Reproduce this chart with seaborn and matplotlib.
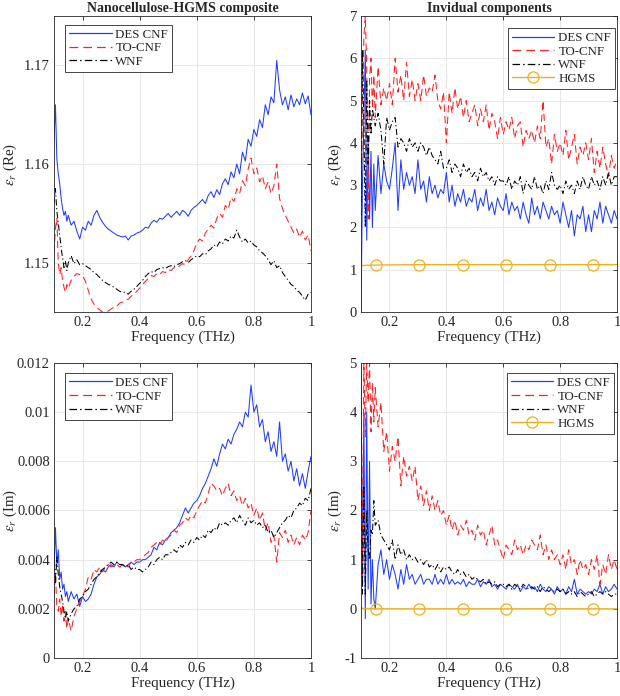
import numpy as np
import matplotlib
matplotlib.use("Agg")
import matplotlib.pyplot as plt
from matplotlib.lines import Line2D
import seaborn as sns

# Frequency grid (THz): finer at the start where the traces are spiky
FREQ = [0.100, 0.105, 0.110, 0.115, 0.120, 0.125, 0.130, 0.135, 0.140, 0.145, 0.150,
        0.16, 0.17, 0.18, 0.19,
        0.20, 0.21, 0.22, 0.23, 0.24, 0.25, 0.26, 0.27, 0.28, 0.29,
        0.30, 0.31, 0.32, 0.33, 0.34, 0.35, 0.36, 0.37, 0.38, 0.39,
        0.40, 0.41, 0.42, 0.43, 0.44, 0.45, 0.46, 0.47, 0.48, 0.49,
        0.50, 0.51, 0.52, 0.53, 0.54, 0.55, 0.56, 0.57, 0.58, 0.59,
        0.60, 0.61, 0.62, 0.63, 0.64, 0.65, 0.66, 0.67, 0.68, 0.69,
        0.70, 0.71, 0.72, 0.73, 0.74, 0.75, 0.76, 0.77, 0.78, 0.79,
        0.80, 0.81, 0.82, 0.83, 0.84, 0.85, 0.86, 0.87, 0.88, 0.89,
        0.90, 0.91, 0.92, 0.93, 0.94, 0.95, 0.96, 0.97, 0.98, 0.99,
        1.00]

# Composite, real part
RE_COMP_DES = [1.1625, 1.1660, 1.1605, 1.1590, 1.1580, 1.1565, 1.1555, 1.1548, 1.1552, 1.1542, 1.1548,
               1.1538, 1.1542, 1.1532, 1.1524,
               1.1536, 1.1533, 1.1542, 1.1538, 1.1548, 1.1553, 1.1546, 1.1541, 1.1537, 1.1534,
               1.1532, 1.1530, 1.1528, 1.1527, 1.1526, 1.1527, 1.1523, 1.1527, 1.1528, 1.1530,
               1.1531, 1.1533, 1.1536, 1.1535, 1.1540, 1.1543, 1.1541, 1.1545, 1.1544, 1.1547,
               1.1550, 1.1546, 1.1549, 1.1552, 1.1548, 1.1553, 1.1551, 1.1547, 1.1553, 1.1556,
               1.1558, 1.1561, 1.1564, 1.1560, 1.1568, 1.1572, 1.1566, 1.1574, 1.1569, 1.1580,
               1.1585, 1.1579, 1.1592, 1.1586, 1.1600, 1.1590, 1.1612, 1.1603, 1.1625, 1.1618,
               1.1635, 1.1628, 1.1645, 1.1637, 1.1660, 1.1650, 1.1668, 1.1662, 1.1705, 1.1675,
               1.1660, 1.1668, 1.1655, 1.1670, 1.1658, 1.1666, 1.1660, 1.1672, 1.1661, 1.1669,
               1.1650]
RE_COMP_TO = [1.1510, 1.1535, 1.1545, 1.1500, 1.1488, 1.1495, 1.1482, 1.1475, 1.1470, 1.1478, 1.1474,
              1.1482, 1.1486, 1.1489, 1.1488,
              1.1487, 1.1481, 1.1472, 1.1463, 1.1458, 1.1455, 1.1452, 1.1450, 1.1450, 1.1451,
              1.1453, 1.1455, 1.1456, 1.1459, 1.1460, 1.1462, 1.1463, 1.1466, 1.1468, 1.1471,
              1.1474, 1.1478, 1.1481, 1.1484, 1.1487, 1.1486, 1.1489, 1.1488, 1.1491, 1.1490,
              1.1493, 1.1492, 1.1495, 1.1494, 1.1497, 1.1499, 1.1498, 1.1503, 1.1507, 1.1512,
              1.1520, 1.1524, 1.1522, 1.1530, 1.1534, 1.1538, 1.1535, 1.1545, 1.1550, 1.1546,
              1.1558, 1.1554, 1.1566, 1.1562, 1.1575, 1.1570, 1.1583, 1.1578, 1.1595, 1.1606,
              1.1590, 1.1596, 1.1582, 1.1588, 1.1575, 1.1582, 1.1570, 1.1578, 1.1600, 1.1565,
              1.1555, 1.1548, 1.1542, 1.1536, 1.1530, 1.1534, 1.1526, 1.1532, 1.1523, 1.1528,
              1.1512]
RE_COMP_WNF = [1.1560, 1.1575, 1.1552, 1.1540, 1.1528, 1.1515, 1.1505, 1.1495, 1.1502, 1.1492, 1.1500,
               1.1507, 1.1499, 1.1503, 1.1498,
               1.1499, 1.1497, 1.1495, 1.1493, 1.1490, 1.1488, 1.1485, 1.1482, 1.1480, 1.1478,
               1.1477, 1.1475, 1.1473, 1.1471, 1.1470, 1.1470, 1.1468, 1.1471, 1.1473, 1.1476,
               1.1479, 1.1482, 1.1486, 1.1489, 1.1491, 1.1490, 1.1493, 1.1494, 1.1495, 1.1494,
               1.1496, 1.1497, 1.1496, 1.1498, 1.1499, 1.1501, 1.1502, 1.1500, 1.1503, 1.1505,
               1.1507, 1.1506, 1.1509, 1.1508, 1.1512, 1.1514, 1.1518, 1.1516, 1.1521, 1.1519,
               1.1524, 1.1522, 1.1527, 1.1525, 1.1533, 1.1526, 1.1521, 1.1524, 1.1520, 1.1522,
               1.1518, 1.1516, 1.1512, 1.1510, 1.1507, 1.1503, 1.1498, 1.1502, 1.1495, 1.1497,
               1.1490, 1.1486, 1.1482, 1.1478, 1.1476, 1.1472, 1.1470, 1.1466, 1.1462, 1.1468,
               1.1470]

# Individual components, real part
RE_IND_DES = [0.0, 3.0, 4.5, 6.2, 1.7, 4.0, 2.2, 3.8, 2.0, 3.5, 2.4,
              3.7, 2.8, 3.5, 3.1,
              2.9, 3.4, 4.0, 2.4, 3.6, 2.9, 3.3, 3.0, 3.2, 2.8,
              3.6, 2.9, 3.1, 2.6, 3.2, 2.8, 3.0, 2.7, 2.9, 2.8,
              3.3, 2.6, 3.0, 2.5, 2.8, 2.6, 2.9, 2.5, 2.7, 2.6,
              2.9, 2.4, 2.7, 2.5, 2.9, 2.4, 2.6, 2.3, 2.7, 2.5,
              2.4, 2.8, 2.3, 2.6, 2.4, 2.5, 2.2, 2.6, 2.3, 2.1,
              2.7, 2.3, 2.5, 2.2, 2.6, 2.4, 2.2, 2.5, 2.3, 2.4,
              2.1, 2.6, 2.3, 2.0, 2.4, 1.8, 2.3, 2.2, 2.5, 1.9,
              2.3, 1.9, 2.4, 2.2, 2.6, 2.1, 2.5, 2.3, 2.1, 2.4,
              2.2]
RE_IND_TO = [2.5, 5.0, 6.5, 7.0, 5.8, 2.2, 5.5, 6.0, 4.8, 5.6, 4.6,
             5.8, 4.9, 5.3, 5.0,
             5.4, 4.9, 6.0, 5.2, 5.6, 5.0, 5.9, 5.1, 5.5, 5.0,
             5.4, 5.0, 5.6, 5.1, 5.3, 5.2, 5.6, 5.0, 4.8, 5.2,
             4.0, 5.2, 4.7, 5.3, 4.8, 5.1, 4.6, 5.0, 4.5, 4.7,
             4.9, 4.4, 4.8, 4.5, 4.9, 4.3, 4.7, 4.5, 4.1, 4.6,
             4.2, 4.5, 4.3, 4.6, 4.1, 4.4, 4.5, 3.9, 4.3, 4.1,
             4.3, 4.0, 4.4, 4.1, 5.0, 3.9, 4.1, 3.5, 4.2, 3.8,
             4.0, 3.7, 4.3, 3.6, 3.9, 4.2, 3.5, 3.9, 3.7, 4.0,
             3.6, 4.1, 3.3, 3.8, 3.4, 3.9, 3.5, 3.2, 3.7, 3.4,
             3.6]
RE_IND_WNF = [2.0, 6.2, 4.5, 2.0, 5.5, 3.5, 5.0, 4.2, 4.8, 4.6, 4.4,
              4.7, 4.3, 3.5, 4.6,
              4.3, 4.5, 4.6, 3.9, 4.1, 4.0, 3.8, 4.1, 3.9, 4.0,
              3.8, 4.0, 3.9, 3.7, 3.9, 3.7, 3.6, 3.5, 3.8, 3.4,
              3.4, 3.6, 3.3, 3.5, 3.4, 3.2, 3.5, 3.3, 3.4, 3.2,
              3.3, 3.1, 3.4, 3.2, 3.3, 3.1, 3.2, 3.0, 3.2, 3.1,
              3.1, 3.0, 3.2, 2.9, 3.1, 3.0, 3.2, 2.8, 3.1, 3.0,
              2.9, 3.2, 2.9, 3.0, 2.8, 3.1, 2.9, 3.3, 3.0, 2.9,
              3.0, 2.8, 3.1, 2.9, 3.0, 2.8, 3.1, 2.9, 3.2, 3.0,
              2.9, 3.2, 3.0, 3.1, 2.9, 3.2, 3.0, 3.3, 3.0, 3.2,
              3.2]

# HGMS is nearly flat: a few samples, markers on the interior ones
HGMS_FREQ = [0.100, 0.103, 0.153, 0.305, 0.458, 0.611, 0.764, 0.917, 1.000]
HGMS_RE = [1.00, 1.10, 1.11, 1.12, 1.12, 1.12, 1.12, 1.12, 1.12]
HGMS_IM = [0.05, 0.01, 0.00, 0.00, 0.00, 0.00, 0.00, 0.00, 0.00]
HGMS_MARKS = [2, 3, 4, 5, 6, 7]

# Composite, imaginary part
IM_COMP_DES = [0.0035, 0.0053, 0.0038, 0.0044, 0.0032, 0.0035, 0.0028, 0.0030, 0.0025, 0.0027, 0.0023,
               0.0027, 0.0024, 0.0026, 0.0021,
               0.0025, 0.0023, 0.0024, 0.0026, 0.0030, 0.0033, 0.0034, 0.0036, 0.0035, 0.0037,
               0.0038, 0.0037, 0.0039, 0.0038, 0.0038, 0.0037, 0.0038, 0.0039, 0.0038, 0.0039,
               0.0039, 0.0040, 0.0040, 0.0041, 0.0042, 0.0045, 0.0044, 0.0047, 0.0046, 0.0048,
               0.0049, 0.0051, 0.0052, 0.0053, 0.0055, 0.0058, 0.0061, 0.0059, 0.0061, 0.0063,
               0.0064, 0.0066, 0.0069, 0.0071, 0.0074, 0.0077, 0.0081, 0.0078, 0.0083, 0.0087,
               0.0085, 0.0089, 0.0087, 0.0091, 0.0093, 0.0096, 0.0094, 0.0100, 0.0098, 0.0111,
               0.0100, 0.0103, 0.0094, 0.0097, 0.0088, 0.0092, 0.0084, 0.0088, 0.0082, 0.0096,
               0.0080, 0.0083, 0.0076, 0.0080, 0.0072, 0.0077, 0.0070, 0.0075, 0.0069, 0.0076,
               0.0082]
IM_COMP_TO = [0.0025, 0.0034, 0.0021, 0.0019, 0.0024, 0.0017, 0.0022, 0.0015, 0.0019, 0.0012, 0.0016,
              0.0011, 0.0017, 0.0020, 0.0023,
              0.0025, 0.0028, 0.0033, 0.0032, 0.0036, 0.0035, 0.0037, 0.0035, 0.0037, 0.0038,
              0.0037, 0.0038, 0.0038, 0.0037, 0.0038, 0.0038, 0.0037, 0.0039, 0.0039, 0.0040,
              0.0040, 0.0041, 0.0042, 0.0043, 0.0045, 0.0046, 0.0047, 0.0046, 0.0048, 0.0047,
              0.0049, 0.0050, 0.0052, 0.0051, 0.0054, 0.0055, 0.0057, 0.0056, 0.0058, 0.0057,
              0.0060, 0.0062, 0.0064, 0.0063, 0.0067, 0.0071, 0.0070, 0.0068, 0.0069, 0.0066,
              0.0069, 0.0071, 0.0066, 0.0068, 0.0064, 0.0066, 0.0062, 0.0065, 0.0061, 0.0063,
              0.0058, 0.0061, 0.0056, 0.0059, 0.0052, 0.0055, 0.0047, 0.0050, 0.0039, 0.0051,
              0.0049, 0.0052, 0.0047, 0.0050, 0.0046, 0.0049, 0.0046, 0.0050, 0.0048, 0.0051,
              0.0060]
IM_COMP_WNF = [0.0045, 0.0030, 0.0041, 0.0034, 0.0029, 0.0026, 0.0023, 0.0019, 0.0016, 0.0019, 0.0015,
               0.0018, 0.0020, 0.0021, 0.0024,
               0.0025, 0.0027, 0.0028, 0.0030, 0.0032, 0.0033, 0.0035, 0.0036, 0.0037, 0.0038,
               0.0039, 0.0038, 0.0039, 0.0038, 0.0038, 0.0037, 0.0038, 0.0036, 0.0037, 0.0036,
               0.0036, 0.0035, 0.0036, 0.0037, 0.0039, 0.0038, 0.0040, 0.0041, 0.0040, 0.0042,
               0.0042, 0.0043, 0.0044, 0.0043, 0.0046, 0.0045, 0.0047, 0.0046, 0.0048, 0.0047,
               0.0049, 0.0048, 0.0050, 0.0049, 0.0052, 0.0051, 0.0053, 0.0052, 0.0055, 0.0054,
               0.0055, 0.0054, 0.0056, 0.0057, 0.0055, 0.0058, 0.0056, 0.0054, 0.0057, 0.0055,
               0.0056, 0.0054, 0.0055, 0.0053, 0.0054, 0.0051, 0.0052, 0.0049, 0.0051, 0.0053,
               0.0055, 0.0056, 0.0058, 0.0057, 0.0060, 0.0061, 0.0063, 0.0062, 0.0065, 0.0064,
               0.0069]

# Individual components, imaginary part
IM_IND_DES = [5.0, 0.5, 4.0, -0.2, 4.0, 0.4, 3.0, 0.1, 1.0, 0.2, 0.0,
              0.9, 1.2, 0.7, 1.0,
              0.6, 0.9, 0.7, 0.4, 0.8, 0.5, 0.9, 0.6, 0.7, 0.5,
              0.6, 0.7, 0.5, 0.6, 0.6, 0.5, 0.7, 0.5, 0.6, 0.5,
              0.7, 0.5, 0.6, 0.5, 0.55, 0.5, 0.6, 0.45, 0.55, 0.5,
              0.5, 0.6, 0.45, 0.55, 0.5, 0.6, 0.45, 0.5, 0.4, 0.5,
              0.45, 0.4, 0.5, 0.45, 0.4, 0.5, 0.35, 0.45, 0.4, 0.5,
              0.4, 0.45, 0.35, 0.5, 0.4, 0.35, 0.45, 0.4, 0.3, 0.45,
              0.35, 0.4, 0.3, 0.45, 0.35, 0.6, 0.3, 0.4, 0.35, 0.3,
              0.35, 0.3, 0.4, 0.35, 0.5, 0.3, 0.45, 0.35, 0.4, 0.5,
              0.4]
IM_IND_TO = [5.0, 0.5, 5.0, 3.5, 5.0, 4.2, 5.0, 3.6, 4.6, 3.8, 4.5,
             3.7, 4.2, 3.2, 3.6,
             2.8, 3.3, 3.0, 3.5, 2.5, 3.1, 2.7, 2.9, 2.6, 2.9,
             2.2, 2.5, 2.1, 2.4, 2.0, 2.3, 2.0, 2.2, 1.9, 2.0,
             1.7, 1.9, 1.6, 1.8, 1.5, 1.7, 1.6, 1.8, 1.5, 1.6,
             1.4, 1.7, 1.5, 1.6, 1.3, 1.5, 1.7, 1.3, 1.4, 1.2,
             1.0, 1.3, 1.2, 1.1, 1.4, 1.2, 1.3, 1.1, 1.3, 1.2,
             1.4, 1.3, 1.2, 1.5, 1.1, 1.3, 1.0, 1.2, 1.0, 1.1,
             0.9, 1.1, 0.8, 1.2, 0.9, 1.0, 0.7, 1.0, 0.8, 0.9,
             0.7, 1.0, 0.8, 1.1, 0.5, 0.9, 0.7, 1.1, 0.8, 1.0,
             0.8]
IM_IND_WNF = [3.5, 0.3, 2.5, 0.3, 2.0, 1.2, 1.0, 1.6, 1.5, 2.2, 1.7,
              1.8, 1.5, 1.4, 1.3,
              1.2, 1.4, 1.0, 1.3, 1.1, 1.2, 1.0, 1.1, 1.0, 1.05,
              0.95, 1.0, 0.9, 1.0, 0.85, 0.9, 0.8, 0.9, 0.75, 0.85,
              0.8, 0.85, 0.75, 0.7, 0.8, 0.7, 0.75, 0.65, 0.7, 0.6,
              0.65, 0.6, 0.55, 0.6, 0.5, 0.55, 0.5, 0.55, 0.45, 0.5,
              0.5, 0.45, 0.5, 0.4, 0.5, 0.45, 0.4, 0.5, 0.45, 0.4,
              0.45, 0.4, 0.45, 0.35, 0.45, 0.4, 0.35, 0.4, 0.35, 0.4,
              0.35, 0.4, 0.3, 0.35, 0.3, 0.35, 0.25, 0.35, 0.3, 0.25,
              0.3, 0.35, 0.25, 0.3, 0.35, 0.3, 0.35, 0.3, 0.25, 0.3,
              0.3]

LABELS = ["DES CNF", "TO-CNF", "WNF", "HGMS"]
X_TICKS = [0.2, 0.4, 0.6, 0.8, 1.0]
X_TICK_LABELS = ["0.2", "0.4", "0.6", "0.8", "1"]

sns.set_style("white")
plt.rcParams["font.family"] = ["Liberation Serif", "DejaVu Serif"]
plt.rcParams["mathtext.fontset"] = "stix"

COLORS = ["#1f3dff", "#ff1f1f", "#000000", "#edb120"]
STYLES = ["-", (0, (7, 4)), (0, (6, 2.5, 1.2, 2.5)), "-"]


def draw_series(ax, series, with_hgms, hgms_y):
    for vals, color, ls in zip(series, COLORS, STYLES):
        sns.lineplot(x=FREQ, y=vals, ax=ax, color=color, linestyle=ls,
                     linewidth=0.75, sort=False, estimator=None, legend=False)
    if with_hgms:
        sns.lineplot(x=HGMS_FREQ, y=hgms_y, ax=ax, color=COLORS[3], linewidth=1.0,
                     marker="o", markevery=HGMS_MARKS, markersize=8,
                     markerfacecolor="none", markeredgecolor=COLORS[3],
                     markeredgewidth=0.9, sort=False, estimator=None, legend=False)


def legend_handles(with_hgms):
    handles = []
    for color, ls in zip(COLORS[:3], STYLES[:3]):
        handles.append(Line2D([], [], color=color, linestyle=ls, linewidth=0.9))
    if with_hgms:
        handles.append(Line2D([], [], color=COLORS[3], linewidth=1.0, marker="o",
                              markersize=8, markerfacecolor="none",
                              markeredgecolor=COLORS[3], markeredgewidth=0.9))
    return handles


def style_axes(ax, ylim, yticks, yticklabels, ylabel, ylabel_x, with_hgms,
               legend_loc, legend_anchor):
    ax.set_xlim(0.1, 1.0)
    ax.set_ylim(*ylim)
    ax.set_xticks(X_TICKS)
    ax.set_xticklabels(X_TICK_LABELS)
    ax.set_yticks(yticks)
    ax.set_yticklabels(yticklabels)
    ax.tick_params(direction="in", length=3, width=0.6, labelsize=10.5,
                   top=True, right=True, colors="#262626", pad=3)
    for sp in ax.spines.values():
        sp.set_visible(True)
        sp.set_color("#262626")
        sp.set_linewidth(0.6)
    ax.grid(True, color="#e3e3e3", linewidth=0.6)
    ax.set_axisbelow(True)
    ax.set_xlabel("Frequency (THz)", fontsize=10.8, labelpad=1)
    ax.set_ylabel(ylabel, fontsize=10.8)
    ax.yaxis.set_label_coords(ylabel_x, 0.5)
    handles = legend_handles(with_hgms)
    leg = ax.legend(handles, LABELS[:len(handles)], loc=legend_loc,
                    bbox_to_anchor=legend_anchor, fontsize=9.3,
                    frameon=True, fancybox=False, framealpha=1, edgecolor="#262626",
                    handlelength=3.3, handletextpad=0.3, labelspacing=0.12,
                    borderpad=0.3, borderaxespad=0.0)
    leg.get_frame().set_linewidth(0.6)


fig = plt.figure(figsize=(6.2, 6.96), dpi=100)
ax_tl = fig.add_axes([0.0871, 0.5517, 0.4145, 0.4253])
ax_tr = fig.add_axes([0.5823, 0.5517, 0.4129, 0.4253])
ax_bl = fig.add_axes([0.0871, 0.0546, 0.4145, 0.4239])
ax_br = fig.add_axes([0.5823, 0.0546, 0.4129, 0.4239])

draw_series(ax_tl, [RE_COMP_DES, RE_COMP_TO, RE_COMP_WNF], False, None)
style_axes(ax_tl, (1.145, 1.175), [1.15, 1.16, 1.17], ["1.15", "1.16", "1.17"],
           r"$\varepsilon_r$ (Re)", -0.136, False, "upper left", (0.043, 0.970))
ax_tl.set_title("Nanocellulose-HGMS composite", fontsize=10, fontweight="bold", pad=3)

draw_series(ax_tr, [RE_IND_DES, RE_IND_TO, RE_IND_WNF], True, HGMS_RE)
style_axes(ax_tr, (0, 7), list(range(0, 8)), [str(v) for v in range(0, 8)],
           r"$\varepsilon_r$ (Re)", -0.065, True, "upper right", (0.992, 0.959))
ax_tr.set_title("Invidual components", fontsize=10, fontweight="bold", pad=3)

draw_series(ax_bl, [IM_COMP_DES, IM_COMP_TO, IM_COMP_WNF], False, None)
bl_ticks = [0, 0.002, 0.004, 0.006, 0.008, 0.01, 0.012]
style_axes(ax_bl, (0, 0.012), bl_ticks, ["0", "0.002", "0.004", "0.006", "0.008", "0.01", "0.012"],
           r"$\varepsilon_r$ (Im)", -0.136, False, "upper left", (0.043, 0.966))

draw_series(ax_br, [IM_IND_DES, IM_IND_TO, IM_IND_WNF], True, HGMS_IM)
style_axes(ax_br, (-1, 5), list(range(-1, 6)), [str(v) for v in range(-1, 6)],
           r"$\varepsilon_r$ (Im)", -0.065, True, "upper right", (0.988, 0.966))

fig.savefig("out.png", dpi=100)
plt.close(fig)
